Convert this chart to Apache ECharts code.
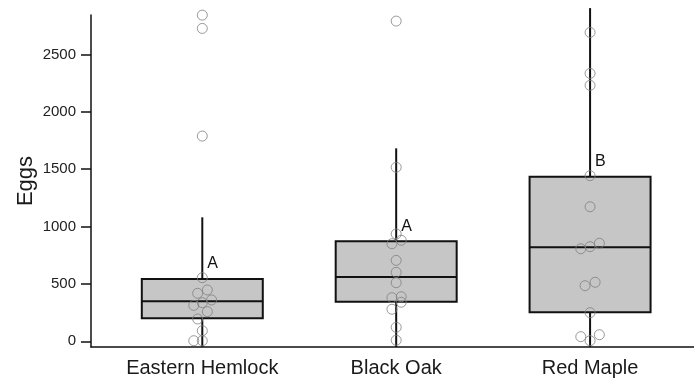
<!DOCTYPE html>
<html>
<head>
<meta charset="utf-8">
<script src="https://cdn.jsdelivr.net/npm/echarts@6/dist/echarts.min.js"></script>
<style>html,body{margin:0;padding:0;background:#fff}#c{width:694px;height:384px}</style>
</head>
<body>
<div id="c"></div>
<script>
var categories = ['Eastern Hemlock', 'Black Oak', 'Red Maple'];
var yTicks = [0, 500, 1000, 1500, 2000, 2500];
// box stats: [low whisker, Q1, median, Q3, high whisker]
var hemlockBox = [-50, 200, 348, 543, 1080];
var blackOakBox = [-50, 345, 560, 871, 1681];
var redMapleBox = [-50, 252, 819, 1434, 2903];
var letters = ['A', 'A', 'B'];
// observations (eggs) and small horizontal jitter (category units)
var hemlockEggs = [2842, 2726, 1788, 554, 447, 418, 360, 336, 313, 258, 194, 92, 5, 5];
var hemlockJitter = [0, 0, 0, 0, 0.026, -0.024, 0.048, 0, -0.044, 0.026, -0.024, 0, -0.044, 0];
var blackOakEggs = [2790, 1516, 935, 880, 850, 705, 601, 510, 388, 380, 340, 279, 122, 9];
var blackOakJitter = [0, 0, 0, 0.026, -0.022, 0, 0, 0, 0.026, -0.022, 0.026, -0.022, 0, 0];
var redMapleEggs = [2691, 2334, 2230, 1443, 1172, 854, 824, 806, 514, 484, 249, 57, 40, 5];
var redMapleJitter = [0, 0, 0, 0, 0, 0.048, 0, -0.048, 0.026, -0.026, 0, 0.048, -0.048, 0];

var boxes = [hemlockBox, blackOakBox, redMapleBox];
var eggs = [hemlockEggs, blackOakEggs, redMapleEggs];
var jit = [hemlockJitter, blackOakJitter, redMapleJitter];

var boxData = boxes.map(function (b, i) { return [i].concat(b); });
var pts = [];
eggs.forEach(function (arr, i) {
  arr.forEach(function (v, k) { pts.push([i + jit[i][k], v]); });
});

var chart = echarts.init(document.getElementById('c'));
var FONT = 'Liberation Sans, Arial, sans-serif';
chart.setOption({
  animation: false,
  grid: { left: 91, right: 0, top: 15, bottom: 37 },
  xAxis: {
    type: 'value', min: -0.574, max: 2.536,
    splitLine: { show: false },
    axisLine: { show: true, onZero: false, lineStyle: { color: '#111', width: 1.5 } },
    axisTick: { show: false },
    axisLabel: {
      customValues: [0, 1, 2],
      formatter: function (v) { return categories[Math.round(v)]; },
      fontSize: 20, color: '#1a1a1a', fontFamily: FONT, margin: 11
    }
  },
  yAxis: {
    type: 'value', min: -50, max: 2843,
    name: 'Eggs', nameLocation: 'middle', nameGap: 54, nameMoveOverlap: false,
    nameTextStyle: { fontSize: 22, color: '#1a1a1a', fontFamily: FONT },
    splitLine: { show: false },
    axisLine: { show: true, onZero: false, lineStyle: { color: '#111', width: 1.5 } },
    axisTick: { show: true, customValues: yTicks, length: 10, lineStyle: { color: '#111', width: 1.5 } },
    axisLabel: { customValues: yTicks, formatter: function (v) { return String(v); },
                 fontSize: 15, color: '#222', fontFamily: FONT, margin: 15 }
  },
  series: [
    {
      type: 'custom',
      clip: false,
      data: boxData,
      encode: { x: 0, y: [1, 2, 3, 4, 5] },
      renderItem: function (params, api) {
        var idx = api.value(0);
        var low = api.coord([idx, api.value(1)]);
        var q1 = api.coord([idx, api.value(2)]);
        var med = api.coord([idx, api.value(3)]);
        var q3 = api.coord([idx, api.value(4)]);
        var high = api.coord([idx, api.value(5)]);
        var w = api.size([0.624, 0])[0];
        var x = low[0];
        var ls = { stroke: '#111', lineWidth: 2 };
        return {
          type: 'group',
          children: [
            { type: 'line', shape: { x1: x, y1: low[1], x2: x, y2: q1[1] }, style: ls },
            { type: 'line', shape: { x1: x, y1: q3[1], x2: x, y2: high[1] }, style: ls },
            { type: 'rect', shape: { x: x - w / 2, y: q3[1], width: w, height: q1[1] - q3[1] },
              style: { fill: '#c6c6c6', stroke: '#111', lineWidth: 2 } },
            { type: 'line', shape: { x1: x - w / 2, y1: med[1], x2: x + w / 2, y2: med[1] }, style: ls },
            { type: 'text', x: x + 5, y: q3[1] - 15,
              style: { text: letters[idx], fontSize: 16, fontFamily: FONT, fill: '#111',
                       textAlign: 'left', textVerticalAlign: 'middle' } }
          ]
        };
      },
      z: 2
    },
    {
      type: 'scatter',
      data: pts,
      symbol: 'circle',
      symbolSize: 10,
      itemStyle: { color: 'rgba(0,0,0,0)', borderColor: '#808080', borderWidth: 1 },
      z: 3
    }
  ]
});
</script>
</body>
</html>
